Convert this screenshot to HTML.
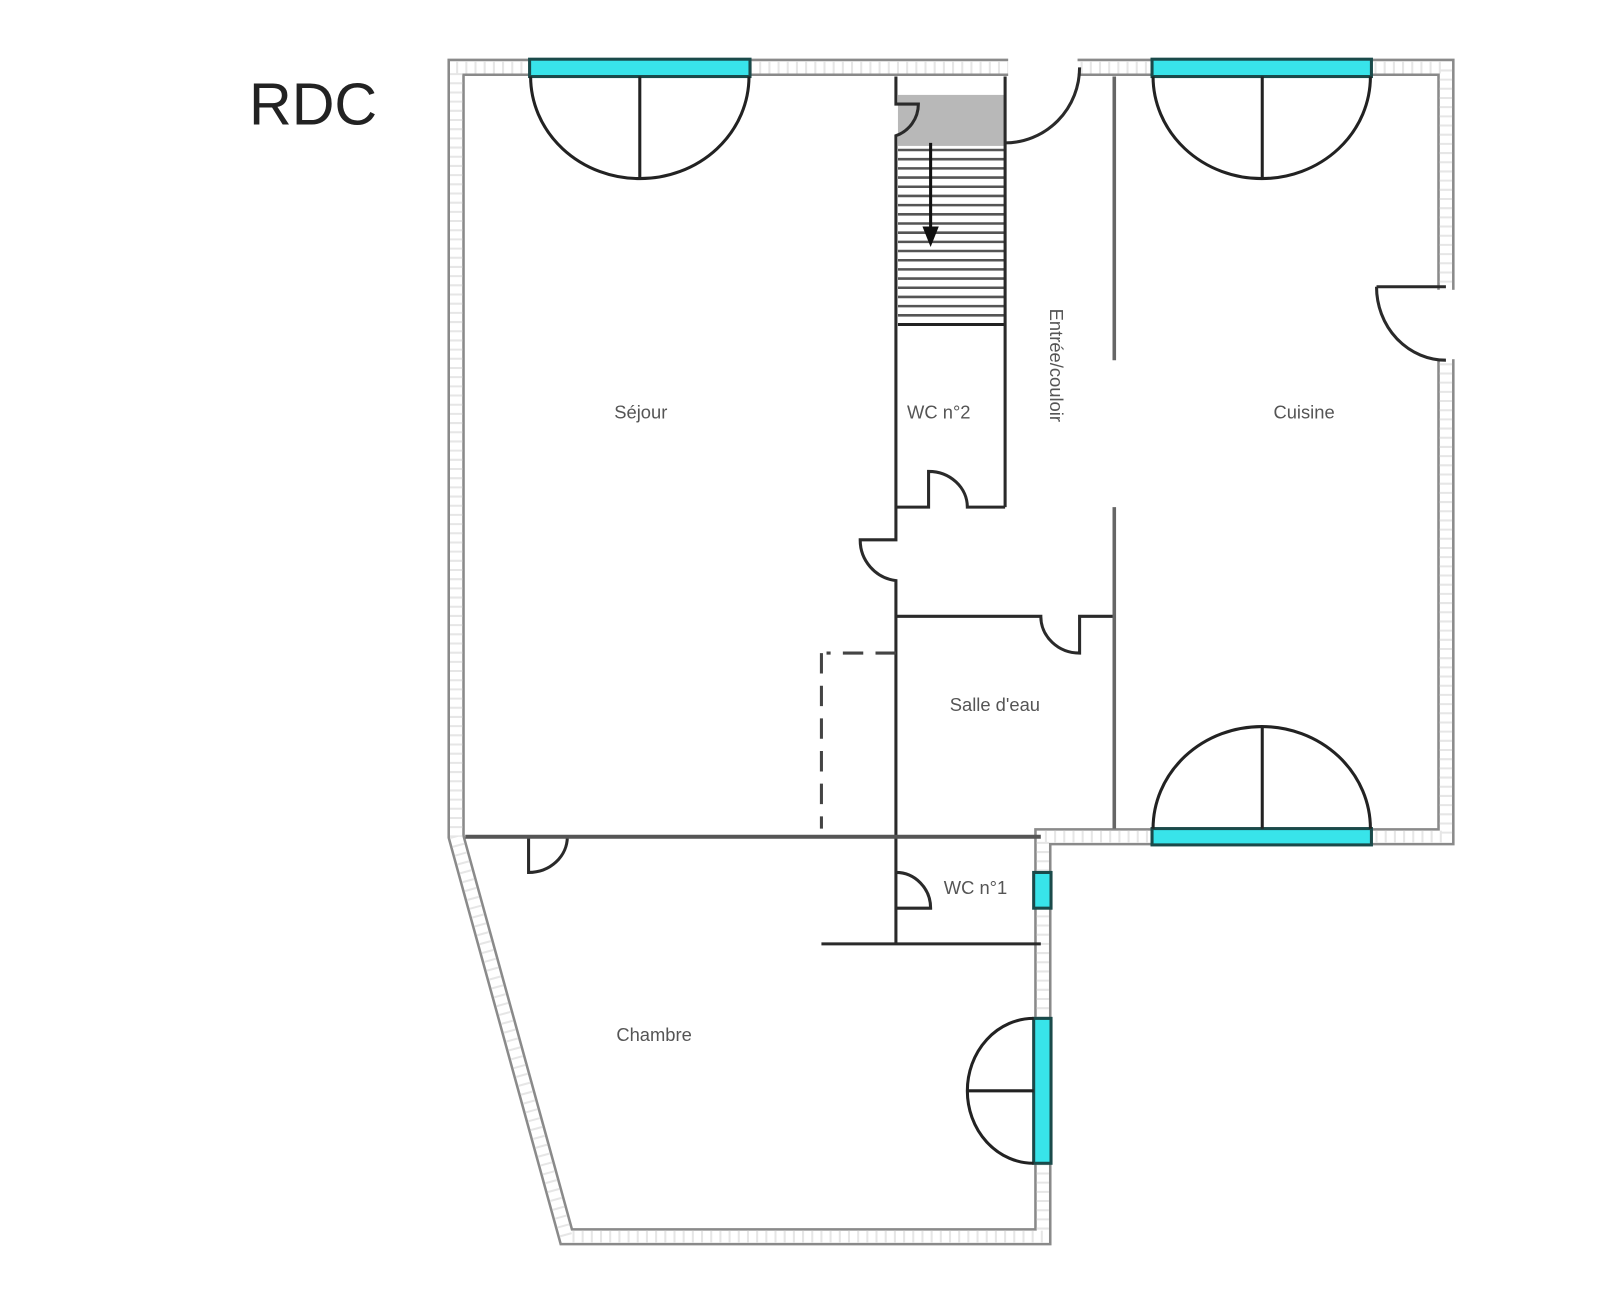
<!DOCTYPE html>
<html><head><meta charset="utf-8"><style>html,body{margin:0;padding:0;background:#fff}svg{display:block}</style></head>
<body>
<svg width="1600" height="1299" viewBox="0 0 1568 1273" xmlns="http://www.w3.org/2000/svg">
<rect width="1568" height="1273" fill="#fff"/>
<text x="244" y="122" font-family="Liberation Sans, sans-serif" font-size="58" fill="#222">RDC</text>
<polygon points="447,66 1417,66 1417,820 1022,820 1022,1212 555,1212 447,820" fill="none" stroke="#8a8a8a" stroke-width="17" stroke-linejoin="miter"/>
<polygon points="447,66 1417,66 1417,820 1022,820 1022,1212 555,1212 447,820" fill="none" stroke="#fff" stroke-width="12" stroke-linejoin="miter"/>
<polygon points="447,66 1417,66 1417,820 1022,820 1022,1212 555,1212 447,820" fill="none" stroke="#e6e6e6" stroke-width="12" stroke-dasharray="2 7"/>
<rect x="988" y="52" width="68" height="28" fill="#fff"/>
<rect x="1403" y="284" width="28" height="68" fill="#fff"/>
<g fill="#38e4ea" stroke="#1a4a4a" stroke-width="3">
<rect x="519" y="58" width="216" height="17"/>
<rect x="1129" y="58" width="215" height="17"/>
<rect x="1129" y="812" width="215" height="16"/>
<rect x="1013" y="998" width="17" height="142"/>
<rect x="1013" y="855" width="17" height="35"/>
</g>
<g fill="none" stroke="#222" stroke-width="3">
<path d="M520,75 A107,100 0 0 0 734,75"/><line x1="627" y1="75" x2="627" y2="175"/>
<path d="M1130,75 A106.5,100 0 0 0 1343,75"/><line x1="1237" y1="75" x2="1237" y2="175"/>
<path d="M1130,812 A106.5,100 0 0 1 1343,812"/><line x1="1237" y1="712" x2="1237" y2="812"/>
<path d="M1013,998 A65,71 0 0 0 1013,1140"/><line x1="948" y1="1069" x2="1013" y2="1069"/>
</g>
<rect x="880" y="93" width="104" height="50" fill="#b8b8b8"/>
<g stroke="#555" stroke-width="2.5">
<line x1="880" y1="147" x2="984" y2="147"/><line x1="880" y1="156" x2="984" y2="156"/><line x1="880" y1="165" x2="984" y2="165"/><line x1="880" y1="174" x2="984" y2="174"/><line x1="880" y1="183" x2="984" y2="183"/><line x1="880" y1="192" x2="984" y2="192"/><line x1="880" y1="201" x2="984" y2="201"/><line x1="880" y1="210" x2="984" y2="210"/><line x1="880" y1="219" x2="984" y2="219"/><line x1="880" y1="228" x2="984" y2="228"/><line x1="880" y1="237" x2="984" y2="237"/><line x1="880" y1="246" x2="984" y2="246"/><line x1="880" y1="255" x2="984" y2="255"/><line x1="880" y1="264" x2="984" y2="264"/><line x1="880" y1="273" x2="984" y2="273"/><line x1="880" y1="282" x2="984" y2="282"/><line x1="880" y1="291" x2="984" y2="291"/><line x1="880" y1="300" x2="984" y2="300"/><line x1="880" y1="309" x2="984" y2="309"/>
</g>
<line x1="880" y1="318" x2="985" y2="318" stroke="#222" stroke-width="3"/>
<line x1="912" y1="140" x2="912" y2="225" stroke="#111" stroke-width="3"/>
<polygon points="904,222 920,222 912,242" fill="#111"/>
<g fill="none" stroke="#2a2a2a" stroke-width="3">
<path d="M878,75 V102 H900 A33,33 0 0 1 878,133 V529 H843 A40,40 0 0 0 878,569 V925"/>
<line x1="985" y1="75" x2="985" y2="497"/>
<path d="M878,497 H910 V462 A38,35 0 0 1 948,497 H985"/>
<path d="M985,140 A73,74 0 0 0 1058,66"/>
<path d="M1349,281 H1417 M1349,281 A68,72 0 0 0 1417,353"/>
<path d="M878,604 H1020 A38,36 0 0 0 1058,640 V604 H1092"/>
<path d="M878,855 A34,35 0 0 1 912,890 H878"/>
<line x1="805" y1="925" x2="1020" y2="925"/>
<path d="M518,820 V855 A38,35 0 0 0 556,820"/>
</g>
<g stroke="#666" stroke-width="3.5">
<line x1="1092" y1="75" x2="1092" y2="353"/>
<line x1="1092" y1="497" x2="1092" y2="812"/>
<line x1="456" y1="820" x2="1020" y2="820" stroke="#555" stroke-width="4"/>
</g>
<g stroke="#444" stroke-width="3" stroke-dasharray="20 12">
<line x1="805" y1="640" x2="805" y2="812"/>
<line x1="878" y1="640" x2="810" y2="640"/>
</g>
<g font-family="Liberation Sans, sans-serif" font-size="18" fill="#555" text-anchor="middle">
<text x="628" y="410">Séjour</text>
<text x="920" y="410">WC n°2</text>
<text x="1278" y="410">Cuisine</text>
<text x="975" y="697">Salle d'eau</text>
<text x="956" y="876">WC n°1</text>
<text x="641" y="1020">Chambre</text>
<text transform="translate(1029,358) rotate(90)">Entrée/couloir</text>
</g>
</svg>
</body></html>
